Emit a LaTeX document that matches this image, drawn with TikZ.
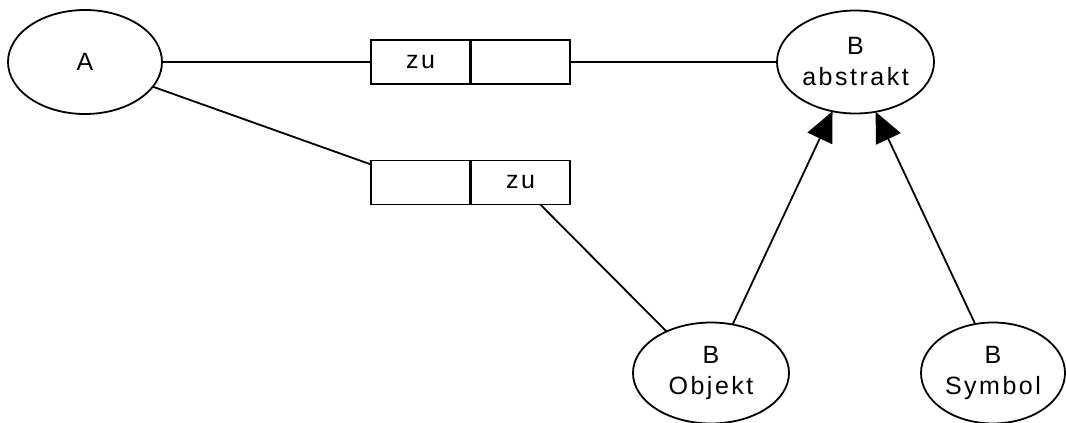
\documentclass[tikz,border=0pt]{standalone}
\usepackage{fontspec}
\newfontfamily\lab{Liberation Sans}[LetterSpace=10]
\usetikzlibrary{shapes.geometric,arrows.meta}
\begin{document}
\begin{tikzpicture}[x=1pt,y=-1pt,
  line width=1.8pt,
  every node/.style={font=\lab\fontsize{25}{31}\selectfont, align=center},
  oval/.style={draw, ellipse, inner sep=0pt, outer sep=0pt},
  slot/.style={draw, rectangle, minimum width=99pt, minimum height=44pt, inner sep=0pt, outer sep=0pt},
  isa/.style={-{Triangle[length=30pt,width=27pt]}}
]
\useasboundingbox (0,0) rectangle (1066,423);
\clip (0,0) rectangle (1066,423);
\fill[white] (0,0) rectangle (1066,423);

% classes
\node[oval, minimum width=154pt, minimum height=104pt] (a) at (85,62) {A};
\node[oval, minimum width=157pt, minimum height=103pt] (babs) at (855.5,62) {B\\abstrakt};
\node[oval, minimum width=156pt, minimum height=101pt] (bobj) at (711,373) {B\\Objekt};
\node[oval, minimum width=144pt, minimum height=101pt] (bsym) at (993,373) {B\\Symbol};

% association ends
\node[slot] (r1) at (420.5,62) {zu};
\node[slot] (r2) at (520.5,62) {};
\node[slot] (r3) at (420.5,182.5) {};
\node[slot] (r4) at (520.5,182.5) {zu};

% associations
\draw (a.east) -- (r1.west);
\draw (r2.east) -- (babs.west);
\draw (a.340.3) -- (r3.160.7);
\draw (r4.312.3) -- (bobj.137);

% generalisations
\draw[isa] (bobj.66.4) -- (babs.245.3);
\draw[isa] (bsym.110.6) -- (babs.292.9);
\end{tikzpicture}
\end{document}
